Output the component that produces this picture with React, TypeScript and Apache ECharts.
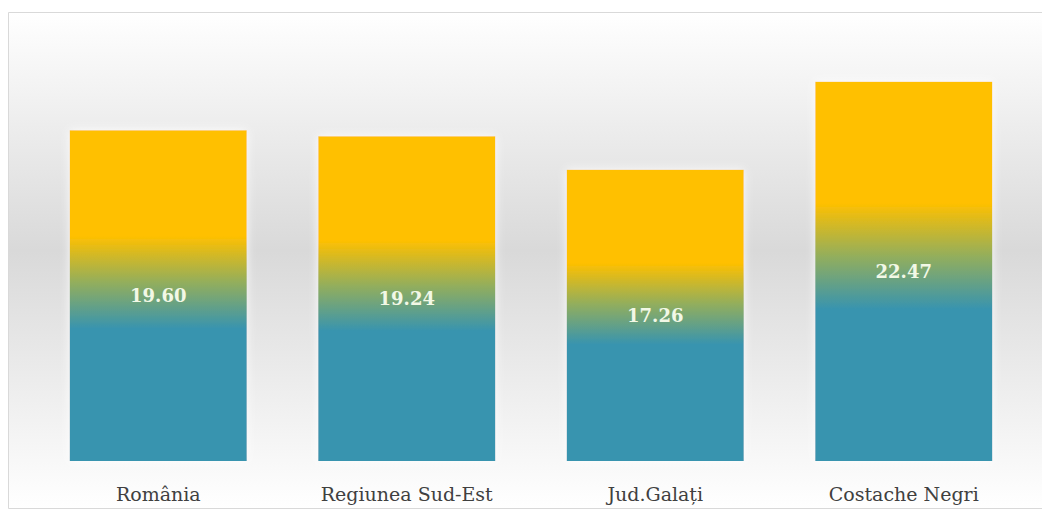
import React, { useEffect, useRef } from "react";
import * as echarts from "echarts";

const categories = ["România", "Regiunea Sud-Est", "Jud.Galați", "Costache Negri"];
const values = [19.6, 19.24, 17.26, 22.47];

export default function App() {
  const ref = useRef<HTMLDivElement>(null);
  useEffect(() => {
    if (!ref.current) return;
    const chart = echarts.init(ref.current, undefined, { renderer: "svg" });
    const barGradient = new echarts.graphic.LinearGradient(0, 0, 0, 1, [
      { offset: 0, color: "#FFC000" },
      { offset: 0.32, color: "#FFC000" },
      { offset: 0.46, color: "#93AE5C" },
      { offset: 0.6, color: "#3894AF" },
      { offset: 1, color: "#3894AF" },
    ]);
    chart.setOption({
      animation: false,
      graphic: [
        {
          type: "rect",
          z: -10,
          silent: true,
          shape: { x: 8.5, y: 12.5, width: 1040, height: 496 },
          style: {
            fill: new echarts.graphic.LinearGradient(0, 0, 0, 1, [
              { offset: 0, color: "#FFFFFF" },
              { offset: 0.48, color: "#D9D9D9" },
              { offset: 1, color: "#FFFFFF" },
            ]),
            stroke: "#D9D9D9",
            lineWidth: 1,
          },
        },
      ],
      grid: { left: 34, right: 14, top: 39, bottom: 50, containLabel: false },
      xAxis: {
        type: "category",
        data: categories,
        axisLine: { show: false },
        axisTick: { show: false },
        axisLabel: {
          margin: 23,
          fontFamily: "DejaVu Serif",
          fontSize: 19,
          color: "#404040",
        },
      },
      yAxis: {
        type: "value",
        min: 0,
        max: 25,
        show: false,
        splitLine: { show: false },
      },
      series: [
        {
          type: "bar",
          data: values,
          barWidth: 177,
          itemStyle: {
            color: barGradient,
            shadowColor: "rgba(255,255,255,0.9)",
            shadowBlur: 10,
          },
          label: {
            show: true,
            position: "inside",
            formatter: (p: any) => p.value.toFixed(2),
            fontFamily: "DejaVu Serif",
            fontWeight: "bold",
            fontSize: 18,
            color: "#F2F8E6",
          },
        },
      ],
    });
    return () => chart.dispose();
  }, []);
  return (
    <div
      ref={ref}
      style={{ position: "fixed", left: 0, top: 0, width: 1042, height: 511, background: "#FFFFFF" }}
    />
  );
}
